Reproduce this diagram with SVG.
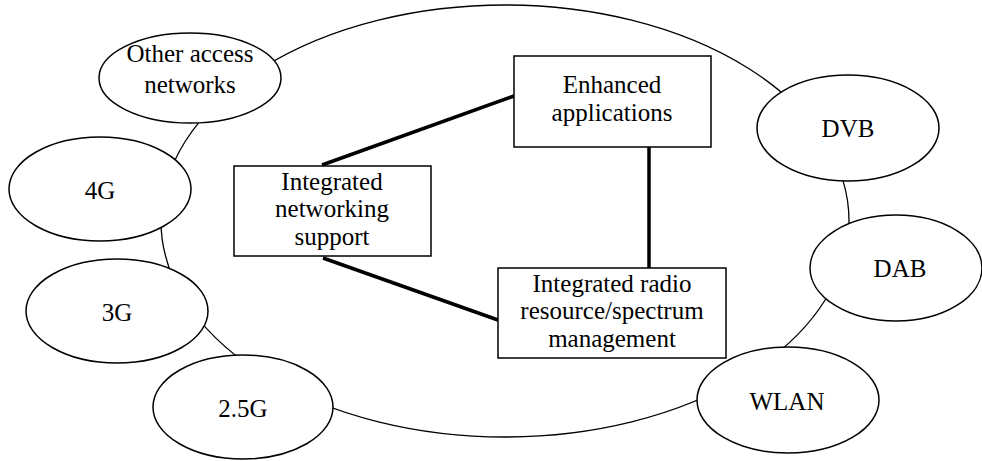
<svg xmlns="http://www.w3.org/2000/svg" width="982" height="461" viewBox="0 0 982 461">
<style>
.thin{fill:none;stroke:#000;stroke-width:1.3}
.thick{fill:none;stroke:#000;stroke-width:3.5}
.node{fill:#fff;stroke:#000;stroke-width:1.5}
text{font-family:'Liberation Serif',Tinos,'Times New Roman','DejaVu Serif',serif;font-size:25px;fill:#000;text-anchor:middle}
</style>
<rect width="982" height="461" fill="#fff"/>
<g id="connectors">
<ellipse class="thin" cx="505" cy="221" rx="344" ry="216"/>
<line class="thick" x1="322" y1="165" x2="514" y2="96"/>
<line class="thick" x1="649" y1="147" x2="649" y2="268"/>
<line class="thick" x1="323" y1="258" x2="498" y2="320"/>
</g>
<g id="other"><ellipse class="node" cx="190" cy="78" rx="91" ry="45"/><text x="190" y="62">Other access</text><text x="190" y="93">networks</text></g>
<g id="g4"><ellipse class="node" cx="100" cy="189" rx="91" ry="52"/><text x="100" y="199">4G</text></g>
<g id="g3"><ellipse class="node" cx="117" cy="311" rx="91" ry="52"/><text x="117" y="321">3G</text></g>
<g id="g25"><ellipse class="node" cx="243" cy="407" rx="90" ry="52"/><text x="243" y="417">2.5G</text></g>
<g id="dvb"><ellipse class="node" cx="848" cy="128" rx="91" ry="53"/><text x="848" y="137">DVB</text></g>
<g id="dab"><ellipse class="node" cx="896" cy="268" rx="86" ry="53"/><text x="900" y="277">DAB</text></g>
<g id="wlan"><ellipse class="node" cx="788" cy="400" rx="91" ry="53"/><text x="787" y="410">WLAN</text></g>
<g id="enhanced"><rect class="node" x="514" y="56" width="197" height="91"/><text x="612" y="93">Enhanced</text><text x="612" y="121">applications</text></g>
<g id="networking"><rect class="node" x="234" y="166" width="197" height="90"/><text x="332" y="189.5">Integrated</text><text x="332" y="217">networking</text><text x="332" y="244.5">support</text></g>
<g id="radio"><rect class="node" x="498" y="268" width="228" height="90"/><text x="612" y="291.5">Integrated radio</text><text x="612" y="319">resource/spectrum</text><text x="612" y="346.5">management</text></g>
</svg>
